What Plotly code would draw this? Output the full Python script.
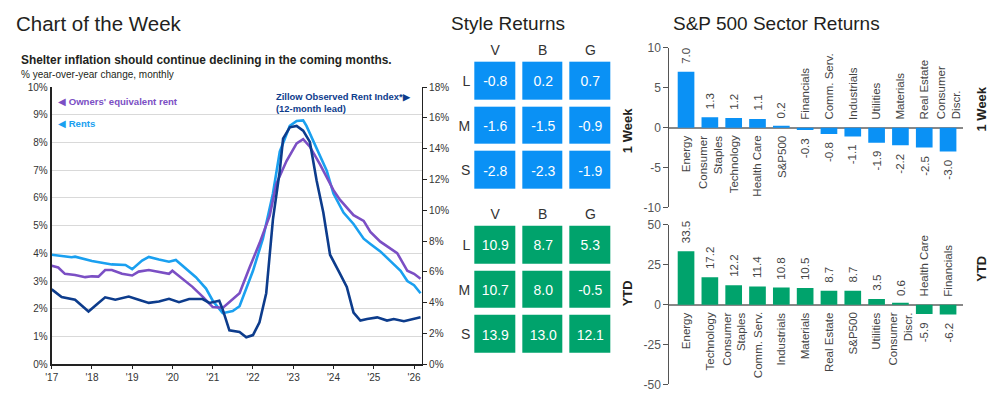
import plotly.graph_objects as go

# ---------------- Data ----------------
rent_dates = ["2017-01","2017-07","2017-08","2018-01","2018-04","2018-07","2018-11","2019-01","2019-04","2019-06",
              "2019-09","2019-12","2020-02","2020-05","2020-08","2020-11","2021-01","2021-04","2021-07","2021-09",
              "2022-01","2022-04","2022-07","2022-09","2022-12","2023-02","2023-04","2023-05","2023-08","2023-11",
              "2024-01","2024-04","2024-07","2024-10","2024-12","2025-03","2025-06","2025-09","2025-11","2026-01",
              "2026-03"]
rent_vals = [3.95,3.86,3.88,3.72,3.66,3.60,3.58,3.43,3.74,3.87,
             3.78,3.70,3.76,3.47,3.14,2.73,2.29,1.84,1.92,2.09,
             3.37,4.53,6.16,7.67,8.60,8.78,8.80,8.60,7.79,6.98,
             6.16,5.47,5.06,4.53,4.34,4.07,3.72,3.37,3.00,2.85,
             2.56]

oer_dates = ["2017-01","2017-03","2017-05","2017-08","2017-11","2018-01","2018-03","2018-05","2018-07","2018-10",
             "2019-01","2019-03","2019-06","2019-09","2019-12","2020-01","2020-04","2020-07","2020-10","2021-01",
             "2021-04","2021-07","2021-09","2021-12","2022-03","2022-06","2022-08","2022-11","2023-02","2023-04",
             "2023-06","2023-09","2024-01","2024-03","2024-07","2024-10","2024-12","2025-03","2025-06","2025-08",
             "2025-11","2026-01","2026-03"]
oer_vals = [3.55,3.49,3.26,3.22,3.14,3.17,3.16,3.40,3.40,3.26,
            3.20,3.34,3.40,3.34,3.26,3.37,3.08,2.79,2.44,2.06,
            2.03,2.33,2.56,3.49,4.36,5.35,6.51,7.33,7.97,8.12,
            7.85,7.21,6.28,5.93,5.38,5.17,4.77,4.42,4.16,4.01,
            3.37,3.26,3.08]

zillow_dates = ["2017-01","2017-04","2017-08","2017-12","2018-03","2018-05","2018-08","2018-12","2019-03","2019-06",
                "2019-09","2019-12","2020-03","2020-06","2020-10","2020-12","2021-03","2021-04","2021-06","2021-09",
                "2021-11","2022-01","2022-03","2022-05","2022-07","2022-09","2022-10","2022-12","2023-02","2023-04",
                "2023-06","2023-08","2023-10","2023-12","2024-03","2024-05","2024-07","2024-09","2024-11","2025-02",
                "2025-05","2025-07","2025-10","2026-01","2026-03"]
zillow_vals = [4.86,4.36,4.19,3.42,3.98,4.34,4.19,4.39,4.19,3.98,
               4.07,4.25,4.03,4.23,4.23,3.98,4.12,3.56,2.20,2.09,
               1.75,1.89,2.72,4.61,9.41,12.56,14.65,15.39,15.48,15.17,
               14.44,11.93,9.85,7.11,5.87,5.02,3.35,2.83,2.93,3.04,
               2.83,2.93,2.79,2.93,3.04]

style_cols = ["V", "B", "G"]
style_rows = ["L", "M", "S"]
style_week = [[-0.8, 0.2, 0.7],
              [-1.6, -1.5, -0.9],
              [-2.8, -2.3, -1.9]]
style_ytd = [[10.9, 8.7, 5.3],
             [10.7, 8.0, -0.5],
             [13.9, 13.0, 12.1]]

week_sectors = ["Energy", "Consumer<br>Staples", "Technology", "Health Care", "S&P500", "Financials",
                "Comm. Serv.", "Industrials", "Utilities", "Materials", "Real Estate", "Consumer<br>Discr."]
week_vals = [7.0, 1.3, 1.2, 1.1, 0.2, -0.3, -0.8, -1.1, -1.9, -2.2, -2.5, -3.0]

ytd_sectors = ["Energy", "Technology", "Consumer<br>Staples", "Comm. Serv.", "Industrials", "Materials",
               "Real Estate", "S&P500", "Utilities", "Consumer<br>Discr.", "Health Care", "Financials"]
ytd_vals = [33.5, 17.2, 12.2, 11.4, 10.8, 10.5, 8.7, 8.7, 3.5, 0.6, -5.9, -6.2]

# ---------------- Styles ----------------
W, H = 1007, 403
FONT = "Liberation Sans, Arial, sans-serif"
C_RENT = "#1aa0f0"
C_OER = "#7b4fc4"
C_ZIL = "#0d3c8c"
C_BLUE = "#0a91f5"
C_GREEN = "#00a36c"
TXT = "#231f20"

def px(x):
    return x / W

def py(y):
    return 1 - y / H

fig = go.Figure()

# ---------------- Line chart ----------------
fig.add_trace(go.Scatter(x=rent_dates, y=rent_vals, mode="lines", line=dict(color=C_RENT, width=2.6),
                         xaxis="x", yaxis="y", showlegend=False))
fig.add_trace(go.Scatter(x=oer_dates, y=oer_vals, mode="lines", line=dict(color=C_OER, width=2.6),
                         xaxis="x", yaxis="y", showlegend=False))
fig.add_trace(go.Scatter(x=zillow_dates, y=zillow_vals, mode="lines", line=dict(color=C_ZIL, width=2.6),
                         xaxis="x", yaxis="y2", showlegend=False))

# ---------------- Style heatmaps ----------------
def fmt(grid):
    return [[f"{v:.1f}" for v in row] for row in grid]

fig.add_trace(go.Heatmap(z=style_week, x=style_cols, y=style_rows, text=fmt(style_week),
                         texttemplate="%{text}", textfont=dict(color="white", size=14, family=FONT),
                         colorscale=[[0, C_BLUE], [1, C_BLUE]], showscale=False, xgap=7, ygap=7,
                         xaxis="x3", yaxis="y3", hoverinfo="skip"))
fig.add_trace(go.Heatmap(z=style_ytd, x=style_cols, y=style_rows, text=fmt(style_ytd),
                         texttemplate="%{text}", textfont=dict(color="white", size=14, family=FONT),
                         colorscale=[[0, C_GREEN], [1, C_GREEN]], showscale=False, xgap=7, ygap=7,
                         xaxis="x4", yaxis="y4", hoverinfo="skip"))

# ---------------- Sector bars ----------------
idx = list(range(len(week_vals)))
fig.add_trace(go.Bar(x=idx, y=week_vals, marker=dict(color=C_BLUE, line=dict(width=0)), width=0.7,
                     xaxis="x5", yaxis="y5", showlegend=False, hoverinfo="skip"))
fig.add_trace(go.Bar(x=idx, y=ytd_vals, marker=dict(color=C_GREEN, line=dict(width=0)), width=0.7,
                     xaxis="x6", yaxis="y6", showlegend=False, hoverinfo="skip"))

annotations = []

def bar_labels(names, vals, xref, yref):
    for i, (n, v) in enumerate(zip(names, vals)):
        pos = v >= 0
        annotations.append(dict(x=i, y=v, xref=xref, yref=yref, text=f"{v:.1f}", showarrow=False,
                                textangle=-90, xanchor="center", yanchor="bottom" if pos else "top",
                                yshift=6 if pos else -6, font=dict(size=11.5, color="#444")))
        annotations.append(dict(x=i, y=0, xref=xref, yref=yref, text=n, showarrow=False,
                                textangle=-90, xanchor="center", yanchor="top" if pos else "bottom",
                                yshift=-6 if pos else 6, align="right" if pos else "left",
                                font=dict(size=11.5, color="#444")))

bar_labels(week_sectors, week_vals, "x5", "y5")
bar_labels(ytd_sectors, ytd_vals, "x6", "y6")

# ---------------- Titles & text ----------------
def txt(x, y, s, size, color=TXT, bold=False, xanchor="left", angle=0, family=FONT, align="left"):
    shift = -6 if xanchor == "left" else 0
    annotations.append(dict(x=px(x), y=py(y), xref="paper", yref="paper", text=(f"<b>{s}</b>" if bold else s),
                            showarrow=False, xanchor=xanchor, yanchor="middle", textangle=angle, align=align,
                            xshift=shift, font=dict(size=size, color=color, family=family)))

txt(13, 17, "Chart of the Week", 20.5)
txt(451, 17, "Style Returns", 19)
txt(675, 17, "S&P 500 Sector Returns", 19)
txt(18, 55, "Shelter inflation should continue declining in the coming months.", 11.9, bold=True)
txt(18, 70, "% year-over-year change, monthly", 10)

txt(55, 98, "◀ <b>Owners' equivalent rent</b>", 9.6, color=C_OER)
txt(55, 121, "◀ <b>Rents</b>", 9.6, color=C_RENT)
txt(275, 99, "<b>Zillow Observed Rent Index*▶<br>(12-month lead)</b>", 9.4, color=C_ZIL)

txt(625, 128, "1 Week", 13, bold=True, xanchor="center", angle=-90)
txt(625, 297, "YTD", 13, bold=True, xanchor="center", angle=-90)
txt(981, 106, "1 Week", 13, bold=True, xanchor="center", angle=-90)
txt(981, 271, "YTD", 13, bold=True, xanchor="center", angle=-90)

# ---------------- Layout ----------------
ax_hm_x = dict(side="top", showgrid=False, zeroline=False, showline=False, ticks="",
               tickfont=dict(size=14, color="#333"))
ax_hm_y = dict(autorange="reversed", showgrid=False, zeroline=False, showline=False, ticks="",
               tickfont=dict(size=14, color="#333"))

fig.update_layout(
    width=W, height=H, autosize=False,
    margin=dict(l=0, r=0, t=0, b=0),
    paper_bgcolor="white", plot_bgcolor="white",
    font=dict(family=FONT, color=TXT),
    showlegend=False,
    bargap=0.3,
    xaxis=dict(domain=[px(45), px(418)], anchor="y", type="date",
               range=["2017-01-01", "2026-03-15"], tick0="2017-01-01", dtick="M12", tickformat="'%y",
               showline=True, linecolor="#222", linewidth=1.5, ticks="outside", ticklen=3, tickcolor="#222",
               showgrid=False, zeroline=False, tickfont=dict(size=10, color="#333")),
    yaxis=dict(domain=[py(370), py(83)], anchor="x", range=[0, 10], tickvals=list(range(0, 11)),
               ticktext=[f"{v}%" for v in range(0, 11)],
               showline=True, linecolor="#222", linewidth=2, ticks="", showgrid=True,
               gridcolor="#d9d9d9", gridwidth=1, zeroline=False, tickfont=dict(size=10, color="#333")),
    yaxis2=dict(overlaying="y", side="right", anchor="x", range=[0, 18], tickvals=list(range(0, 19, 2)),
                ticktext=[f"{v}%" for v in range(0, 19, 2)],
                showline=True, linecolor="#222", linewidth=1, ticks="outside", ticklen=4, tickcolor="#222",
                showgrid=False, zeroline=False, tickfont=dict(size=10, color="#333")),
    xaxis3=dict(domain=[px(467.5), px(611.5)], anchor="y3", **ax_hm_x),
    yaxis3=dict(domain=[py(192.5), py(53.5)], anchor="x3", **ax_hm_y),
    xaxis4=dict(domain=[px(467.5), px(611.5)], anchor="y4", **ax_hm_x),
    yaxis4=dict(domain=[py(362.5), py(223.5)], anchor="x4", **ax_hm_y),
    xaxis5=dict(domain=[px(667), px(963)], anchor="y5", range=[-0.7, 11.64], showticklabels=False,
                showline=False, showgrid=False, zeroline=False, ticks=""),
    yaxis5=dict(domain=[py(207.7), py(42.3)], anchor="x5", range=[-10, 10], tickvals=[-10, -5, 0, 5, 10],
                ticktext=["-10", "-5", "0", "5", "10"], showline=True, linecolor="#555", linewidth=1.2,
                ticks="outside", ticklen=5, tickcolor="#555", showgrid=False, zeroline=True,
                zerolinecolor="#888", zerolinewidth=1.5, tickfont=dict(size=12, color="#555")),
    xaxis6=dict(domain=[px(667), px(963)], anchor="y6", range=[-0.7, 11.64], showticklabels=False,
                showline=False, showgrid=False, zeroline=False, ticks=""),
    yaxis6=dict(domain=[py(391), py(225.7)], anchor="x6", range=[-50, 50], tickvals=[-50, -25, 0, 25, 50],
                ticktext=["-50", "-25", "0", "25", "50"], showline=True, linecolor="#555", linewidth=1.2,
                ticks="outside", ticklen=5, tickcolor="#555", showgrid=False, zeroline=True,
                zerolinecolor="#888", zerolinewidth=1.5, tickfont=dict(size=12, color="#555")),
    annotations=annotations,
)

fig.write_html("out.html")
